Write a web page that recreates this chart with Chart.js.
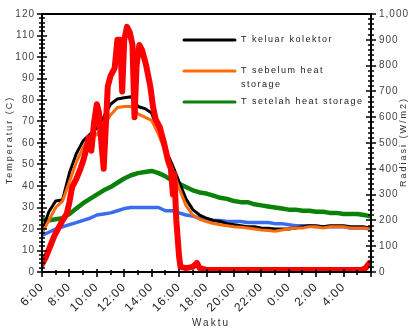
<!DOCTYPE html>
<html lang="id">
<head>
<meta charset="UTF-8">
<title>Temperatur dan Radiasi</title>
<script src="https://cdn.jsdelivr.net/npm/chart.js"></script>
<style>
  html, body { margin: 0; padding: 0; background: #fff; }
</style>
</head>
<body>
<canvas id="chart" width="416" height="333"></canvas>
<script>
// jam sejak pukul 06:00
const tempHours = [0,0.5,1,1.5,2,2.5,3,3.5,4,4.5,5,5.5,6,6.5,7,7.5,8,8.5,9,9.5,10,10.5,11,11.5,12,12.5,13,13.5,14,14.5,15,15.5,16,16.5,17,17.5,18,18.5,19,19.5,20,20.5,21,21.5,22,22.5,23,23.5,23.9];
const tKeluar  = [19,28,33,33.5,46,55,61,64,67,72,78,80.5,81,81.5,77,76,74,65,57,50,42,34,29,26.5,25,24,23.5,22.5,22,21.5,21,21,20.5,20.3,20,20,20,20.5,21,21.5,21.5,21,21.5,21.5,21.5,21,21,21,20.5];
const tSebelum = [18,24,30,33,42,51,58,62,64,68,73,76.5,77,77,73.5,72,70.5,64,56,48,39,31,26.5,24.5,23.5,22.5,22,21.5,21,20.8,20.5,20,19.5,19.3,19,19.5,20,20.5,20.5,21,21,20.5,21,21,21,20.5,20.5,20.5,20];
const tSetelah = [24.5,24,24.5,25,27,29.5,32,34,36,38,39.5,41.5,43.5,45,46,46.5,47,46,44.5,42.5,41,39.5,38,37,36.5,35.5,34.5,34,33,32.5,32.5,31.5,31,30.5,30,29.5,29,29,28.5,28.5,28,28,27.5,27.5,27,27,27,26.5,26];
const tLingkungan = [17,18.5,20,21,22,23,24,25,26.5,27,27.5,28.5,29.5,30,30,30,30,30,28.5,28.5,27.5,26.5,26,25,24.5,24,24,23.5,23.5,23.5,23,23,23,23,22.5,22.5,22,21.5,21.5,21.5,21,21,21,21,21,20.5,20.5,20.5,20];

const radHours = [0,0.3,0.6,0.9,1.2,1.5,1.8,2.0,2.2,2.5,2.8,3.0,3.2,3.4,3.6,3.8,4.0,4.15,4.3,4.5,4.65,4.8,5.0,5.3,5.5,5.7,5.85,6.0,6.2,6.4,6.6,6.75,6.9,7.1,7.3,7.6,7.9,8.1,8.3,8.6,8.9,9.2,9.4,9.55,9.65,9.8,10.0,10.1,10.5,11.0,11.3,11.5,12.0,14,16,18,20,22,23.3,23.6,23.9];
const radiasi  = [30,60,100,140,170,200,225,270,330,360,400,430,470,520,470,580,650,620,520,400,560,720,760,790,900,900,700,900,950,930,880,600,800,880,860,800,720,640,590,560,500,430,400,300,380,200,60,20,15,20,35,15,8,8,8,8,8,8,8,15,35];

const hourLabels = ['6:00','8:00','10:00','12:00','14:00','16:00','18:00','20:00','22:00','0:00','2:00','4:00'];

const FONT = '"Liberation Sans", Arial, sans-serif';

function pts(xs, ys) {
  return xs.map((x, i) => ({ x: x, y: ys[i] }));
}

// frame, tick marks, legend and axis titles
const decor = {
  id: 'decor',
  beforeDraw(chart) {
    chart.ctx.letterSpacing = '1px';
  },
  afterDatasetsDraw(chart) {
    const { ctx, chartArea: a, scales } = chart;
    ctx.save();
    ctx.strokeStyle = '#000';
    ctx.lineWidth = 2;
    ctx.strokeRect(a.left, a.top, a.right - a.left, a.bottom - a.top);

    // left axis ticks
    ctx.beginPath();
    for (let v = 0; v <= 120; v += 2) {
      const y = Math.round(scales.y.getPixelForValue(v));
      const major = v % 10 === 0;
      ctx.moveTo(a.left - (major ? 5 : 3), y);
      ctx.lineTo(a.left + (major ? 5 : 3), y);
    }
    // right axis ticks
    for (let v = 0; v <= 1000; v += 20) {
      const y = Math.round(scales.y1.getPixelForValue(v));
      const major = v % 100 === 0;
      ctx.moveTo(a.right - (major ? 5 : 3), y);
      ctx.lineTo(a.right + (major ? 5 : 3), y);
    }
    // bottom axis ticks
    for (let h = 0; h <= 24; h += 1) {
      const x = Math.round(scales.x.getPixelForValue(h));
      const major = h % 2 === 0;
      ctx.moveTo(x, a.bottom - (major ? 3 : 2));
      ctx.lineTo(x, a.bottom + (major ? 5 : 3));
    }
    ctx.lineWidth = 1.6;
    ctx.stroke();

    // legend
    const legend = [
      { color: '#000000', y: 40, lines: ['T keluar kolektor'] },
      { color: '#ff6a0a', y: 71, lines: ['T sebelum heat', 'storage'] },
      { color: '#0a820a', y: 102, lines: ['T setelah heat storage'] }
    ];
    ctx.letterSpacing = '1.5px';
    ctx.font = '9px ' + FONT;
    ctx.textBaseline = 'middle';
    ctx.textAlign = 'left';
    legend.forEach(it => {
      ctx.strokeStyle = it.color;
      ctx.lineWidth = 3;
      ctx.lineCap = 'round';
      ctx.beginPath();
      ctx.moveTo(184, it.y);
      ctx.lineTo(235, it.y);
      ctx.stroke();
      ctx.fillStyle = '#222';
      it.lines.forEach((t, k) => ctx.fillText(t, 241, it.y + k * 14));
    });

    // axis titles
    ctx.fillStyle = '#333';
    ctx.font = '9px ' + FONT;
    ctx.letterSpacing = '2px';
    ctx.textAlign = 'center';
    ctx.save();
    ctx.translate(10, 140);
    ctx.rotate(-Math.PI / 2);
    ctx.fillText('Temperatur (C)', 0, 0);
    ctx.restore();
    ctx.save();
    ctx.translate(404, 142);
    ctx.rotate(-Math.PI / 2);
    ctx.fillText('Radiasi (W/m2)', 0, 0);
    ctx.restore();
    ctx.font = '10px ' + FONT;
    ctx.fillText('Waktu', 211, 323);
    ctx.restore();
  },
  afterDraw(chart) {
    chart.ctx.letterSpacing = '0px';
  }
};

new Chart(document.getElementById('chart'), {
  type: 'line',
  data: {
    datasets: [
      { label: 'Radiasi', data: pts(radHours, radiasi), yAxisID: 'y1', borderColor: '#ff0000', borderWidth: 6 },
      { label: 'T sebelum heat storage', data: pts(tempHours, tSebelum), yAxisID: 'y', borderColor: '#ff6a0a', borderWidth: 3 },
      { label: 'T keluar kolektor', data: pts(tempHours, tKeluar), yAxisID: 'y', borderColor: '#000000', borderWidth: 3 },
      { label: 'T setelah heat storage', data: pts(tempHours, tSetelah), yAxisID: 'y', borderColor: '#0a820a', borderWidth: 4.5 },
      { label: 'T lingkungan', data: pts(tempHours, tLingkungan), yAxisID: 'y', borderColor: '#3a6cf0', borderWidth: 3.5 }
    ]
  },
  options: {
    responsive: false,
    animation: false,
    devicePixelRatio: 1,
    layout: { padding: { top: 13, left: 0, right: 0, bottom: 0 } },
    elements: {
      point: { radius: 0 },
      line: { tension: 0, borderJoinStyle: 'round', borderCapStyle: 'round' }
    },
    plugins: { legend: { display: false }, tooltip: { enabled: false } },
    scales: {
      x: {
        type: 'linear', min: 0, max: 24,
        grid: { display: false, drawTicks: false },
        border: { display: false },
        ticks: {
          stepSize: 2, autoSkip: false, minRotation: 45, maxRotation: 45, padding: 8,
          color: '#222', font: { family: FONT, size: 12 },
          callback: v => hourLabels[v / 2] || null
        },
        afterFit: s => { s.height = 61; }
      },
      y: {
        position: 'left', min: 0, max: 120,
        grid: { display: false, drawTicks: false },
        border: { display: false },
        ticks: { stepSize: 10, padding: 7, color: '#444', font: { family: FONT, size: 10 } },
        afterFit: s => { s.width = 42; }
      },
      y1: {
        position: 'right', min: 0, max: 1000,
        grid: { display: false, drawTicks: false },
        border: { display: false },
        ticks: { stepSize: 100, padding: 8, color: '#444', font: { family: FONT, size: 10 } },
        afterFit: s => { s.width = 45; }
      }
    }
  },
  plugins: [decor]
});
</script>
</body>
</html>
